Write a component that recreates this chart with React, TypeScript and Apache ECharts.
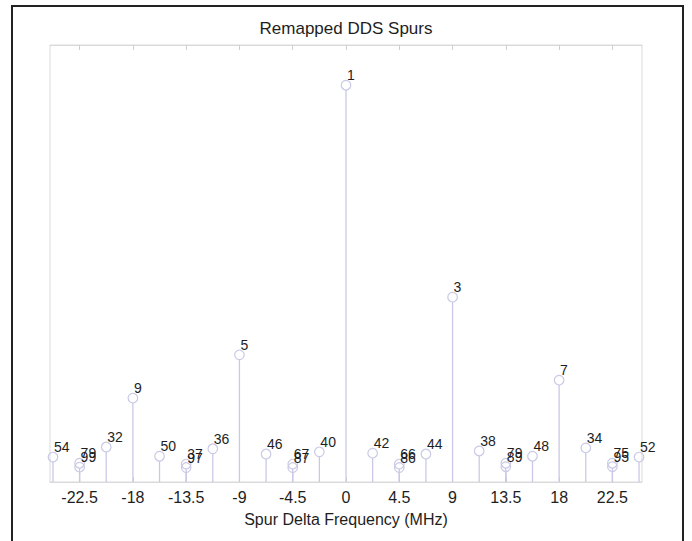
import React, { useEffect, useRef } from "react";
import * as echarts from "echarts";

// Spur offsets (MHz), relative level and the spur number printed above each stem
const FREQS = [
  -24.75, -22.5, -22.5, -20.25, -18, -15.75, -13.5, -13.5, -11.25, -9, -6.75,
  -4.5, -4.5, -2.25, 0, 2.25, 4.5, 4.5, 6.75, 9, 11.25, 13.5, 13.5, 15.75, 18,
  20.25, 22.5, 22.5, 24.75,
];
const LEVELS = [
  5.7, 4.3, 3.4, 8.0, 19.2, 5.9, 4.1, 3.3, 7.6, 29.1, 6.4,
  4.1, 3.3, 6.9, 90.8, 6.6, 4.1, 3.3, 6.4, 42.3, 7.1, 4.3, 3.5, 5.9, 23.3,
  7.8, 4.3, 3.5, 5.7,
];
const SPUR_IDS = [
  "54", "79", "99", "32", "9", "50", "37", "97", "36", "5", "46",
  "67", "87", "40", "1", "42", "66", "86", "44", "3", "38", "79", "89", "48", "7",
  "34", "75", "95", "52",
];
const TICKS = [-22.5, -18, -13.5, -9, -4.5, 0, 4.5, 9, 13.5, 18, 22.5];

const FONT = '"Liberation Sans", Arial, Helvetica, sans-serif';
const STEM = "#c9c9e6";
const FRAME = "#dadada";
const INK = "#1e1e1e";

export default function App() {
  const ref = useRef<HTMLDivElement>(null);

  useEffect(() => {
    if (!ref.current) return;
    const chart = echarts.init(ref.current, undefined, { renderer: "svg" });

    const data = FREQS.map((f, i) => [f, LEVELS[i], i]);

    const baseAxis = {
      type: "value" as const,
      min: -25,
      max: 25,
      axisLine: { show: true, lineStyle: { color: FRAME, width: 1 } },
      axisTick: {
        show: true,
        inside: true,
        length: 5,
        customValues: TICKS,
        lineStyle: { color: "#cfcfcf" },
      },
      splitLine: { show: false },
    };

    chart.setOption({
      animation: false,
      backgroundColor: "#ffffff",
      title: {
        text: "Remapped DDS Spurs",
        left: "center",
        top: 15,
        textStyle: {
          fontSize: 17,
          fontWeight: "normal",
          color: INK,
          fontFamily: FONT,
        },
      },
      graphic: [
        {
          type: "rect",
          shape: { x: 12, y: 6, width: 671, height: 600 },
          style: { fill: "none", stroke: "#222", lineWidth: 2 },
          silent: true,
        },
      ],
      grid: {
        left: 50,
        right: 50,
        top: 45,
        bottom: 59,
        show: true,
        borderColor: FRAME,
        borderWidth: 1,
        backgroundColor: "transparent",
      },
      xAxis: [
        {
          ...baseAxis,
          position: "bottom",
          name: "Spur Delta Frequency (MHz)",
          nameLocation: "middle",
          nameGap: 29,
          nameTextStyle: { fontSize: 16, color: INK, fontFamily: FONT },
          axisLabel: {
            show: true,
            customValues: TICKS,
            margin: 7,
            fontSize: 16,
            color: INK,
            fontFamily: FONT,
          },
        },
        {
          ...baseAxis,
          position: "top",
          axisLabel: { show: false },
        },
      ],
      yAxis: {
        type: "value",
        min: 0,
        max: 100,
        axisLine: { show: false },
        axisTick: { show: false },
        axisLabel: { show: false },
        splitLine: { show: false },
      },
      series: [
        {
          type: "custom",
          xAxisIndex: 0,
          yAxisIndex: 0,
          data,
          clip: false,
          renderItem: (params: any, api: any) => {
            const x = api.value(0);
            const y = api.value(1);
            const idx = api.value(2);
            const base = api.coord([x, 0]);
            const top = api.coord([x, y]);
            const r = 4.8;
            return {
              type: "group",
              children: [
                {
                  type: "line",
                  shape: { x1: base[0], y1: base[1], x2: top[0], y2: top[1] + r },
                  style: { stroke: STEM, lineWidth: 1.3 },
                },
                {
                  type: "circle",
                  shape: { cx: top[0], cy: top[1], r },
                  style: { fill: "rgba(255,255,255,0)", stroke: STEM, lineWidth: 1.2 },
                },
                {
                  type: "text",
                  x: top[0] + 1,
                  y: top[1] - 10,
                  style: {
                    text: SPUR_IDS[idx],
                    fontSize: 14,
                    fontFamily: FONT,
                    fill: INK,
                    align: "left",
                    verticalAlign: "middle",
                  },
                },
              ],
            };
          },
        },
      ],
    });

    return () => chart.dispose();
  }, []);

  return (
    <div
      ref={ref}
      style={{ position: "fixed", left: 0, top: 0, width: 692, height: 541 }}
    />
  );
}
